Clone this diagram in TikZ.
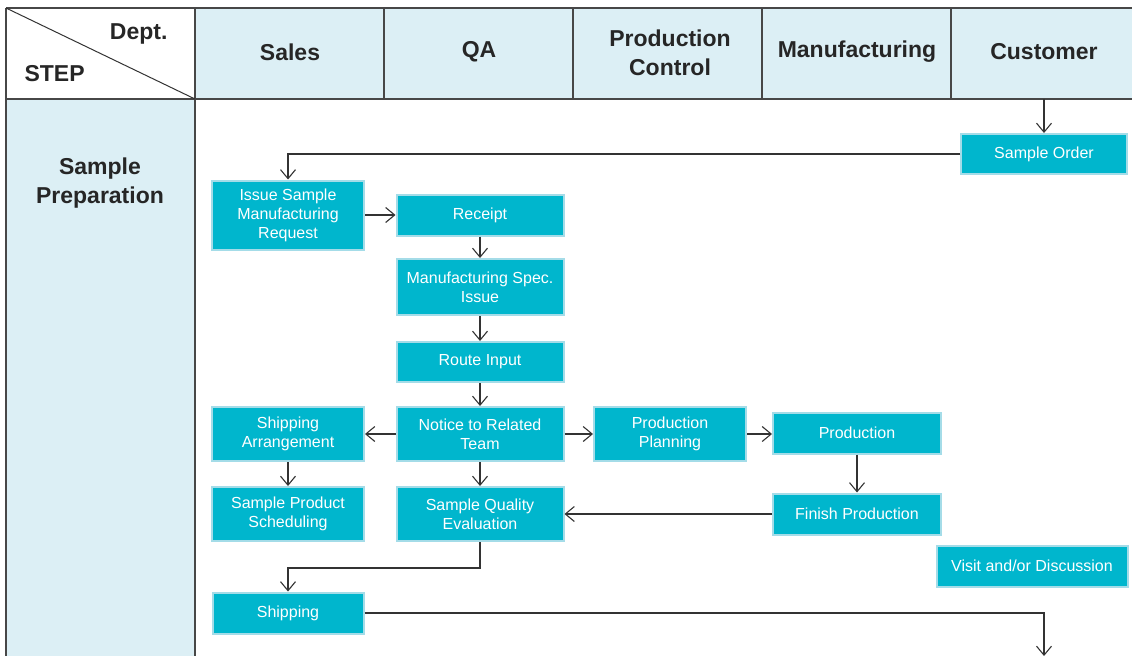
\documentclass[tikz,border=0pt]{standalone}
\usepackage{fontspec}
\setmainfont{Liberation Sans}
\usetikzlibrary{arrows.meta}
\definecolor{hdrfill}{HTML}{DCEFF5}
\definecolor{boxfill}{HTML}{00B6CD}
\definecolor{boxedge}{HTML}{A4DCE8}
\definecolor{linec}{HTML}{333333}
\tikzset{
  flowbox/.style={draw=boxedge, line width=2pt, fill=boxfill, text=white, align=center,
    inner sep=0pt, font=\fontsize{16}{19}\selectfont},
  hdr/.style={font=\fontsize{23}{29}\bfseries\selectfont, text=black!85, align=center},
  flow/.style={draw=linec, line width=1.1pt, -{Straight Barb[length=9pt,width=15pt,line width=1.1pt]}},
  grid/.style={draw=linec!90, line width=1.3pt}
}
\begin{document}
\begin{tikzpicture}[x=1pt,y=-1pt]
\useasboundingbox (0,0) rectangle (1132,656);
% backgrounds
\fill[hdrfill] (195,8) rectangle (1132,99);
\fill[hdrfill] (6,99) rectangle (195,656);
% grid
\draw[grid] (6,8) -- (1132,8);
\draw[grid] (6,99) -- (1132,99);
\draw[grid] (6,8) -- (6,656);
\draw[grid] (195,8) -- (195,656);
\foreach \x in {384,573,762,951} \draw[grid] (\x,8) -- (\x,99);
\draw[line width=1pt, draw=linec] (6,8) -- (195,99);
% header texts
\node[hdr, anchor=base east] (dept) at (171,39) {Dept.};
\node[hdr, anchor=base west] (step) at (21,81) {STEP};
\node[hdr] (sales) at (290,52) {Sales};
\node[hdr] (qa) at (479,52) {QA};
\node[hdr] (pc) at (670,53) {Production\\Control};
\node[hdr] (mfg) at (857,52) {Manufacturing};
\node[hdr] (cust) at (1044,52) {Customer};
\node[hdr] (sp) at (100,183) {Sample\\Preparation};
% boxes
\node[flowbox, minimum width=166pt, minimum height=40pt] (order) at (1044,154) {Sample Order};
\node[flowbox, minimum width=152pt, minimum height=69pt] (issue) at (288,215) {Issue Sample\\Manufacturing\\Request};
\node[flowbox, minimum width=167pt, minimum height=41pt] (receipt) at (480,215) {Receipt};
\node[flowbox, minimum width=167pt, minimum height=56pt] (spec) at (480,287) {Manufacturing Spec.\\Issue};
\node[flowbox, minimum width=167pt, minimum height=40pt] (route) at (480,362) {Route Input};
\node[flowbox, minimum width=167pt, minimum height=54pt] (notice) at (480,434) {Notice to Related\\Team};
\node[flowbox, minimum width=152pt, minimum height=54pt] (sarr) at (288,434) {Shipping\\Arrangement};
\node[flowbox, minimum width=152pt, minimum height=54pt] (pplan) at (670,434) {Production\\Planning};
\node[flowbox, minimum width=168pt, minimum height=41pt] (prod) at (857,433) {Production};
\node[flowbox, minimum width=152pt, minimum height=54pt] (sps) at (288,514) {Sample Product\\Scheduling};
\node[flowbox, minimum width=167pt, minimum height=54pt] (sqe) at (480,514) {Sample Quality\\Evaluation};
\node[flowbox, minimum width=168pt, minimum height=41pt] (fin) at (857,514) {Finish Production};
\node[flowbox, minimum width=191pt, minimum height=41pt] (visit) at (1032,566) {Visit and/or Discussion};
\node[flowbox, minimum width=151pt, minimum height=41pt] (ship) at (288,613) {Shipping};
% connectors
\coordinate (custtop) at (1044,99);
\coordinate (endpt) at (1044,656);
\draw[flow] (custtop) -- (order.north);
\draw[flow] (order.west) -| (issue.north);
\draw[flow] (issue.east) -- (receipt.west);
\draw[flow] (receipt) -- (spec);
\draw[flow] (spec) -- (route);
\draw[flow] (route) -- (notice);
\draw[flow] (notice) -- (sarr);
\draw[flow] (notice) -- (pplan);
\draw[flow] (pplan.east) -- (prod.west |- pplan.east);
\draw[flow] (notice) -- (sqe);
\draw[flow] (sarr) -- (sps);
\draw[flow] (prod) -- (fin);
\draw[flow] (fin) -- (sqe);
\draw[flow] (sqe.south) -- ++(0,26) -| (ship.north);
\draw[flow] (ship.east) -| (endpt);
\end{tikzpicture}
\end{document}
